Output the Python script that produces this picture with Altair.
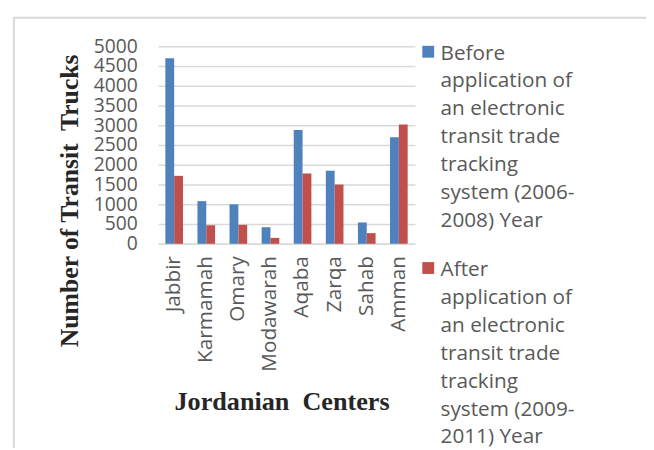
import altair as alt
import pandas as pd

centers = ["Jabbir", "Karmamah", "Omary", "Modawarah", "Aqaba", "Zarqa", "Sahab", "Amman"]
before = [4700, 1080, 1000, 420, 2880, 1850, 540, 2700]
after = [1720, 470, 480, 150, 1780, 1500, 270, 3020]
series = [
    "Before|application of|an electronic|transit trade|tracking|system (2006-|2008) Year",
    "After|application of|an electronic|transit trade|tracking|system (2009-|2011) Year",
]
colors = ["#4F81BD", "#C0504D"]
y_ticks = list(range(0, 5001, 500))

rows = []
for c, b, a in zip(centers, before, after):
    rows.append({"center": c, "series": series[0], "value": b})
    rows.append({"center": c, "series": series[1], "value": a})
df = pd.DataFrame(rows)

FONT = "Open Sans"
GRAY = "#595959"
SERIF = "Liberation Serif"

bars = alt.Chart(df).mark_bar().encode(
    x=alt.X("center:N", sort=centers,
            scale=alt.Scale(paddingInner=0.45, paddingOuter=0.225),
            axis=alt.Axis(title="Jordanian\u00a0 Centers", labelAngle=-90, labelAlign="right",
                          labelBaseline="middle", labelFontSize=21, labelColor=GRAY,
                          labelFont=FONT, labelPadding=12, ticks=False,
                          domainColor="#D9D9D9", domainWidth=1.5,
                          titleFont=SERIF, titleFontSize=26.5, titleFontWeight="bold",
                          titleColor="#262626", titleX=125, titleY=160, titleBaseline="middle",
                          titleAnchor="middle")),
    xOffset=alt.XOffset("series:N", sort=series),
    y=alt.Y("value:Q", scale=alt.Scale(domain=[0, 5000], nice=False),
            axis=alt.Axis(title="Number of Transit\u00a0 Trucks", values=y_ticks, format="d",
                          labelFontSize=19.5, labelColor=GRAY, labelFont=FONT, labelPadding=21,
                          labelOverlap=False,
                          ticks=False, domain=False, gridColor="#D9D9D9", gridWidth=1.5,
                          titleFont=SERIF, titleFontSize=26, titleFontWeight="bold",
                          titleColor="#262626", titleX=-90, titleY=156, titleAngle=-90,
                          titleAnchor="middle", titleBaseline="middle")),
    color=alt.Color("series:N", sort=series,
                    scale=alt.Scale(domain=series, range=colors),
                    legend=alt.Legend(title=None, orient="none", legendX=263, legendY=-14.1,
                                      labelExpr="split(datum.label, '|')",
                                      labelFont=FONT, labelFontSize=21, labelColor=GRAY,
                                      labelLimit=300, labelBaseline="top",
                                      symbolType="M-1,0.52L1,0.52L1,2.52L-1,2.52Z",
                                      symbolSize=144, symbolStrokeWidth=0,
                                      symbolOpacity=1, rowPadding=17, labelOffset=2)),
)

border = alt.Chart(pd.DataFrame({"a": [0]})).mark_rect(
    fill=None, stroke="#D9D9D9", strokeWidth=2
).encode(x=alt.value(-146), x2=alt.value(500), y=alt.value(-29), y2=alt.value(430))

chart = alt.layer(border, bars).properties(
    width=260, height=200,
    autosize=alt.AutoSizeParams(type="none"),
    padding={"left": 152, "top": 36, "right": 234, "bottom": 204},
).configure(style={"guide-label": {"lineHeight": 28.3}}).configure_view(stroke=None)

chart.save("out.html", embed_options={"renderer": "svg", "actions": False})
